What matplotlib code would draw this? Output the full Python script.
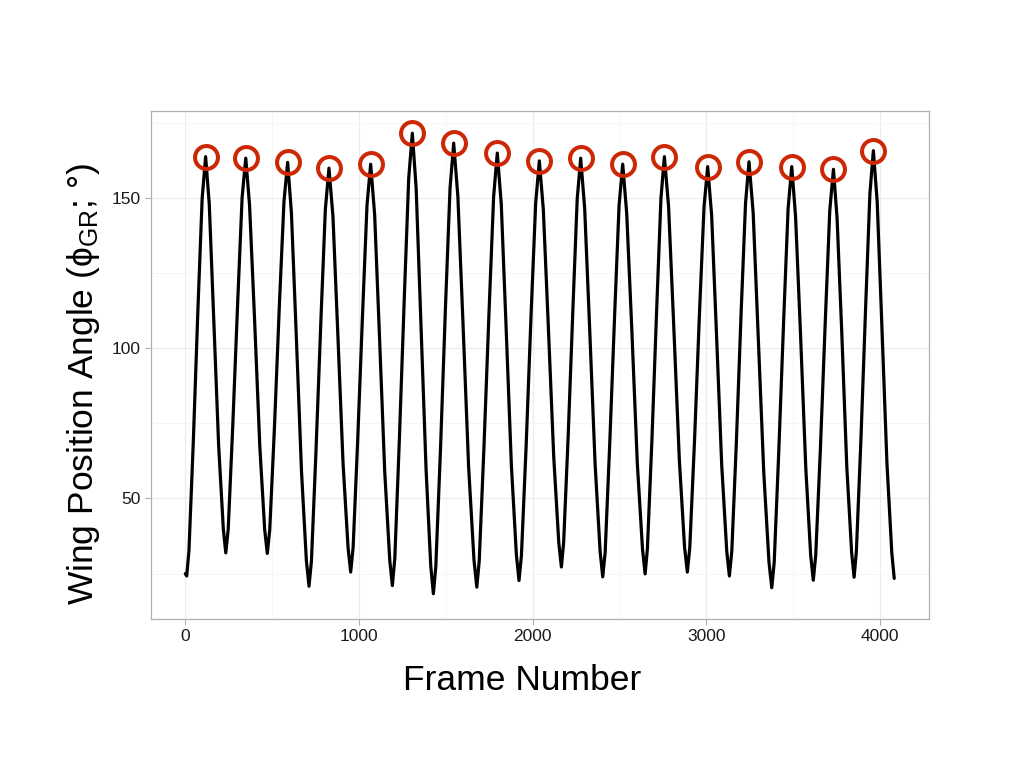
import matplotlib
matplotlib.use("Agg")
import matplotlib.pyplot as plt
from matplotlib.ticker import MultipleLocator

plt.rcParams['font.family'] = ['Liberation Sans', 'DejaVu Sans']
plt.rcParams['mathtext.fontset'] = 'custom'
plt.rcParams['mathtext.rm'] = 'Liberation Sans'
plt.rcParams['mathtext.it'] = 'Liberation Sans:italic'

# Wing position trace (frame number, angle in degrees)
frames = [
    0, 8, 21, 46, 73, 97,
    117, 138, 163, 192, 219,
    233, 247, 273, 302, 327,
    348, 370, 398, 429, 457,
    472, 486, 513, 542, 568,
    589, 611, 638, 669, 697,
    712, 726, 752, 781, 806,
    827, 850, 877, 908, 937,
    952, 966, 992, 1021, 1046,
    1067, 1090, 1117, 1148, 1177,
    1192, 1206, 1232, 1261, 1286,
    1307, 1329, 1355, 1386, 1413,
    1428, 1442, 1469, 1498, 1524,
    1545, 1569, 1598, 1631, 1662,
    1678, 1692, 1719, 1749, 1775,
    1796, 1819, 1846, 1877, 1906,
    1921, 1935, 1962, 1991, 2017,
    2038, 2061, 2089, 2121, 2150,
    2165, 2178, 2204, 2232, 2256,
    2276, 2299, 2327, 2359, 2388,
    2403, 2417, 2443, 2472, 2497,
    2518, 2541, 2570, 2602, 2632,
    2647, 2660, 2686, 2714, 2738,
    2758, 2782, 2811, 2844, 2874,
    2890, 2904, 2931, 2960, 2986,
    3007, 3030, 3057, 3088, 3117,
    3132, 3146, 3172, 3200, 3225,
    3245, 3269, 3297, 3330, 3360,
    3376, 3390, 3416, 3445, 3470,
    3491, 3513, 3541, 3572, 3600,
    3615, 3629, 3656, 3685, 3710,
    3731, 3752, 3779, 3808, 3836,
    3850, 3863, 3889, 3917, 3941,
    3961, 3983, 4009, 4039, 4067,
    4081,
]
angles = [
    25.0, 24.2, 32.6, 68.8, 113.5, 149.8,
    163.7, 147.9, 111.0, 67.5, 39.8,
    31.9, 39.8, 73.9, 115.9, 150.1,
    163.2, 147.4, 110.6, 67.2, 39.6,
    31.7, 39.5, 73.3, 115.0, 148.8,
    161.8, 144.9, 105.4, 58.9, 29.3,
    20.8, 29.1, 65.3, 109.8, 146.0,
    159.9, 143.8, 106.1, 61.8, 33.6,
    25.5, 33.6, 68.9, 112.3, 147.6,
    161.2, 144.4, 105.1, 58.9, 29.4,
    21.0, 30.0, 69.2, 117.3, 156.5,
    171.5, 153.1, 110.2, 59.7, 27.5,
    18.3, 27.3, 66.3, 114.2, 153.2,
    168.2, 150.5, 109.1, 60.4, 29.4,
    20.5, 29.2, 66.7, 112.9, 150.5,
    164.9, 147.8, 108.0, 61.1, 31.2,
    22.7, 31.1, 67.4, 112.0, 148.3,
    162.3, 146.1, 108.3, 63.7, 35.3,
    27.2, 35.4, 70.7, 114.2, 149.6,
    163.2, 146.5, 107.5, 61.5, 32.3,
    23.9, 32.1, 67.8, 111.8, 147.5,
    161.2, 144.8, 106.7, 61.7, 33.1,
    24.9, 33.2, 69.3, 113.7, 149.8,
    163.7, 147.1, 108.4, 62.8, 33.8,
    25.5, 33.6, 68.7, 111.8, 146.9,
    160.4, 144.1, 105.9, 61.0, 32.4,
    24.2, 32.5, 68.3, 112.4, 148.2,
    162.0, 145.0, 105.3, 58.6, 28.8,
    20.3, 28.7, 65.1, 110.0, 146.4,
    160.4, 143.9, 105.4, 60.0, 31.1,
    22.8, 31.0, 66.5, 110.3, 145.8,
    159.5, 143.2, 105.2, 60.4, 31.9,
    23.8, 32.3, 69.2, 114.6, 151.5,
    165.7, 148.6, 108.8, 61.8, 31.9,
    23.4,
]

# Detected peaks (circled)
peak_frames = [117, 348, 589, 827, 1067, 1307, 1545, 1796, 2038, 2276,
               2518, 2758, 3007, 3245, 3491, 3731, 3961]
peak_angles = [163.7, 163.2, 161.8, 159.9, 161.2, 171.5, 168.2, 164.9, 162.3, 163.2,
               161.2, 163.7, 160.4, 162.0, 160.4, 159.5, 165.7]

x_ticks = [0, 1000, 2000, 3000, 4000]
y_ticks = [50, 100, 150]

fig = plt.figure(figsize=(10.24, 7.68), dpi=100)
ax = fig.add_axes([0.1472, 0.194, 0.7600, 0.6619])

ax.plot(frames, angles, color='black', lw=2.3, solid_joinstyle='round',
        solid_capstyle='round', zorder=3)
ax.plot(peak_frames, peak_angles, linestyle='none', marker='o', markersize=16.5,
        markerfacecolor='none', markeredgecolor='#cc2805', markeredgewidth=2.9,
        zorder=4)

ax.set_xlim(-199, 4281)
ax.set_ylim(9.9, 179.0)
ax.set_xticks(x_ticks)
ax.set_yticks(y_ticks)
ax.xaxis.set_minor_locator(MultipleLocator(500))
ax.yaxis.set_minor_locator(MultipleLocator(25))

ax.grid(True, which='major', color='#ececec', lw=0.8, zorder=0)
ax.grid(True, which='minor', color='#f5f5f5', lw=0.6, zorder=0)
ax.set_axisbelow(True)

for s in ax.spines.values():
    s.set_color('#b0b0b0')
    s.set_linewidth(0.9)

ax.tick_params(axis='both', which='major', length=4, width=0.8, color='#b0b0b0',
               labelsize=12.5, labelcolor='#1a1a1a', pad=3)
ax.tick_params(axis='both', which='minor', length=0)

fig.text(522 / 1024, 1 - 681 / 768, 'Frame Number', ha='center', va='center',
         fontsize=25.5, color='black')
fig.text(84 / 1024, 1 - 384 / 768, r'Wing Position Angle (ϕ$_{\mathrm{GR}}$; °)',
         ha='center', va='center', rotation=90, fontsize=25.5, color='black')

fig.savefig('out.png', dpi=100, facecolor='white')
